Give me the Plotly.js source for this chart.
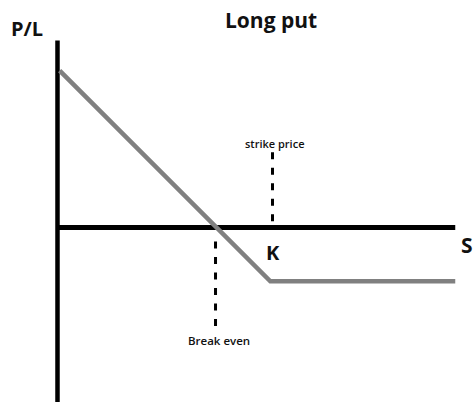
<!DOCTYPE html>
<html>
<head>
<meta charset="utf-8">
<script src="https://cdn.plot.ly/plotly-3.0.1.min.js"></script>
<style>html,body{margin:0;padding:0;background:#fff;}#chart{width:474px;height:402px;}</style>
</head>
<body>
<div id="chart"></div>
<script>
// Payoff of a long put (S = underlying price, P/L = profit / loss)
const sPrice = [1, 99, 185];
const profitLoss = [73, -25, -25];
const strike = 100;
const breakEven = 73.5;

// Axis arms of the diagram
const xArmS = [0, 185];
const xArmPL = [0, 0];
const yArmS = [0, 0];
const yArmPL = [87, -82];

// Dashed guide markers
const strikeGuidePL = [35, 2.5];
const breakEvenGuidePL = [-6.5, -46.5];

// Labels
const titleText = "Long put";
const yLabel = "P/L";
const xLabel = "S";
const strikeLetter = "K";
const strikeLabel = "strike price";
const breakEvenLabel = "Break even";

const font = "Open Sans, Lato, sans-serif";
const ink = "#111111";

const traces = [
  {x: xArmS, y: xArmPL, mode: "lines", line: {color: "#000", width: 5}, hoverinfo: "skip"},
  {x: yArmS, y: yArmPL, mode: "lines", line: {color: "#000", width: 4.5}, hoverinfo: "skip"},
  {x: [strike, strike], y: strikeGuidePL, mode: "lines", line: {color: "#000", width: 3, dash: "7px,8.5px"}, hoverinfo: "skip"},
  {x: [breakEven, breakEven], y: breakEvenGuidePL, mode: "lines", line: {color: "#000", width: 3, dash: "7px,8.5px"}, hoverinfo: "skip"},
  {x: sPrice, y: profitLoss, mode: "lines", line: {color: "#808080", width: 4.5}, hoverinfo: "skip"}
];

const layout = {
  width: 474, height: 402,
  margin: {l: 0, r: 0, t: 0, b: 0, pad: 0},
  paper_bgcolor: "#fff", plot_bgcolor: "#fff",
  showlegend: false,
  xaxis: {range: [-26.74, 193.72], visible: false, fixedrange: true},
  yaxis: {range: [-81.16, 105.81], visible: false, fixedrange: true},
  annotations: [
    {x: 271, y: 20, xref: "paper", yref: "paper", text: titleText, showarrow: false,
     font: {family: font, size: 21, color: ink, weight: 700}, xanchor: "center", yanchor: "middle"},
    {x: 27, y: 28, xref: "paper", yref: "paper", text: yLabel, showarrow: false,
     font: {family: font, size: 20, color: ink, weight: 700}, xanchor: "center", yanchor: "middle"},
    {x: 467, y: 245, xref: "paper", yref: "paper", text: xLabel, showarrow: false,
     font: {family: font, size: 21, color: ink, weight: 700}, xanchor: "center", yanchor: "middle"},
    {x: 272.5, y: 252, xref: "paper", yref: "paper", text: strikeLetter, showarrow: false,
     font: {family: font, size: 20, color: ink, weight: 700}, xanchor: "center", yanchor: "middle"},
    {x: 274, y: 143, xref: "paper", yref: "paper", text: strikeLabel, showarrow: false,
     font: {family: font, size: 11, color: ink, weight: 600}, xanchor: "center", yanchor: "middle"},
    {x: 219, y: 340, xref: "paper", yref: "paper", text: breakEvenLabel, showarrow: false,
     font: {family: font, size: 11.5, color: ink, weight: 600}, xanchor: "center", yanchor: "middle"}
  ]
};
// convert pixel-placed label anchors to paper fractions
layout.annotations.forEach(a => { a.x = a.x / 474; a.y = 1 - a.y / 402; });

Plotly.newPlot("chart", traces, layout, {displayModeBar: false, staticPlot: true});
</script>
</body>
</html>
